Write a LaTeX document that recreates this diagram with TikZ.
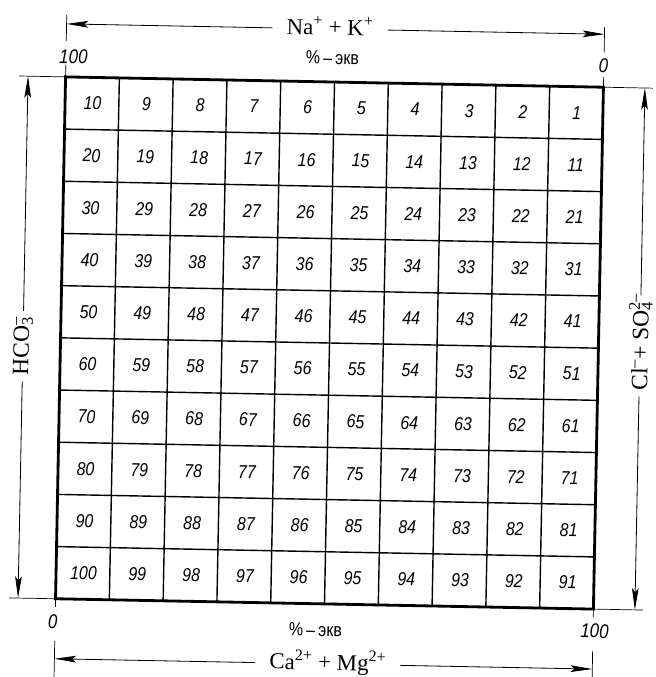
\documentclass[tikz,border=0pt]{standalone}
\usepackage{fontspec}
\setmainfont{Liberation Serif}
\newfontfamily\gostfont[FakeStretch=0.85]{Liberation Sans}
\usetikzlibrary{arrows.meta}

\begin{document}
\begin{tikzpicture}[
        x=0.03cm, y=-0.03cm,
        cellnum/.style={font=\gostfont\itshape\fontsize{16}{16}\selectfont},
        scalenum/.style={font=\gostfont\itshape\fontsize{17}{17}\selectfont},
        unitlbl/.style={font=\gostfont\fontsize{16}{16}\selectfont},
        ionlbl/.style={font=\fontsize{19.5}{20}\selectfont, inner xsep=12pt, inner ysep=3pt},
        sidelbl/.style={font=\fontsize{20}{20}\selectfont, inner xsep=5pt, inner ysep=3pt, rotate=90},
        dimarrow/.style={-{Stealth[length=6.5mm,width=2mm,inset=1.2mm]}, line width=0.7pt},
        extline/.style={line width=0.6pt},
        thinline/.style={line width=1.2pt}
    ]
        \useasboundingbox (0,0) rectangle (656,677);

    \begin{scope}[rotate around={-1.1:(329.5,343)}, transform shape]
        % grid
        \coordinate (gtl) at (60.5,82);
        \coordinate (gtr) at (598.5,82);
        \coordinate (gbl) at (60.5,604);
        \coordinate (gbr) at (598.5,604);
        \foreach \i in {1,...,9}{
            \draw[thinline] (60.5+\i*53.8,82) -- (60.5+\i*53.8,604);
            \draw[thinline] (60.5,82+\i*52.2) -- (598.5,82+\i*52.2);
        }
        \draw[line width=2.4pt] (gtl) rectangle (gbr);

        \foreach \r in {0,...,9}{
            \foreach \c in {0,...,9}{
                \pgfmathtruncatemacro\n{10*(\r+1)-\c}
                \node[cellnum] (n\n) at (88+\c*53.8, 108+\r*52.2) {\n};
            }
        }

        % top scale: Na + K
        \node[ionlbl, anchor=base] (nak) at (324,35) {Na\textsuperscript{+} + K\textsuperscript{+}};
        \coordinate (topL) at (60.5,29);
        \coordinate (topR) at (598.5,29);
        \draw[dimarrow] (nak.west |- topL) -- (topL);
        \draw[dimarrow] (nak.east |- topR) -- (topR);
        \draw[extline] (60.5,20) -- (60.5,46);
        \draw[extline] (598.5,22) -- (598.5,48);
        \draw[extline] (60.5,70) -- (gtl);
        \draw[extline] (598.5,72) -- (gtr);
        \node[scalenum] (t100) at (68,62) {100};
        \node[scalenum] (t0) at (598,61) {0};
        \node[unitlbl] (tunit) at (327,58) {\%\,–\,экв};

        % bottom scale: Ca + Mg
        \node[ionlbl, anchor=base] (camg) at (334,670) {Ca\textsuperscript{2+} + Mg\textsuperscript{2+}};
        \coordinate (botL) at (60.5,664);
        \coordinate (botR) at (598.5,664);
        \draw[dimarrow] (camg.west |- botL) -- (botL);
        \draw[dimarrow] (camg.east |- botR) -- (botR);
        \draw[extline] (60.5,646) -- (60.5,690);
        \draw[extline] (598.5,646) -- (598.5,690);
        \draw[extline] (gbl) -- (60.5,612);
        \draw[extline] (gbr) -- (598.5,612);
        \node[scalenum] (b0) at (58,627) {0};
        \node[scalenum] (b100) at (600,626) {100};
        \node[unitlbl] (bunit) at (321,630) {\%\,–\,экв};

        % left scale: HCO3
        \node[sidelbl] (hco) at (23,352) {HCO\rlap{\textsuperscript{--}}\textsubscript{3}};
        \coordinate (lefT) at (23,82);
        \coordinate (lefB) at (23,604);
        \draw[dimarrow] (hco.east) -- (lefT);
        \draw[dimarrow] (hco.west) -- (lefB);
        \draw[extline] (14,82) -- (gtl);
        \draw[extline] (14,604) -- (gbl);

        % right scale: Cl + SO4
        \node[sidelbl] (clso) at (640,340) {Cl\textsuperscript{--}+ SO\rlap{\textsuperscript{2--}}\textsubscript{4}\hspace{0.6em}};
        \coordinate (rigT) at (640,82);
        \coordinate (rigB) at (640,604);
        \draw[dimarrow] (clso.east) -- (rigT);
        \draw[dimarrow] (clso.west) -- (rigB);
        \draw[extline] (gtr) -- (648,82);
        \draw[extline] (gbr) -- (648,604);
    \end{scope}
    \end{tikzpicture}
\end{document}
